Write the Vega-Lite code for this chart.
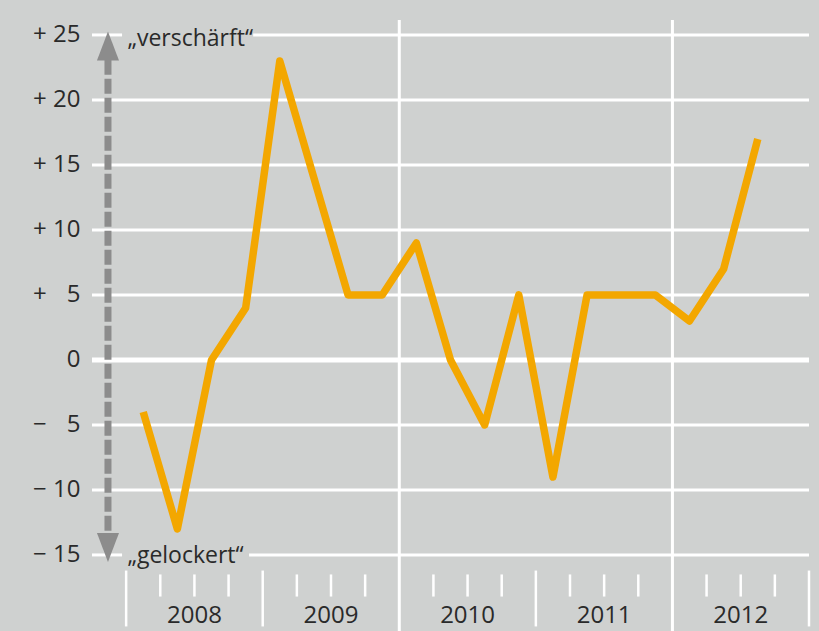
{
  "$schema": "https://vega.github.io/schema/vega-lite/v6.json",
  "width": 717,
  "height": 611,
  "autosize": {"type": "none"},
  "padding": {"left": 92, "top": 20, "right": 10, "bottom": 0},
  "background": "#cfd1d0",
  "config": {"view": {"stroke": null}, "font": "Open Sans"},
  "datasets": {
    "series": [
      {"t": 2008.125, "v": -4}, {"t": 2008.375, "v": -13}, {"t": 2008.625, "v": 0}, {"t": 2008.875, "v": 4},
      {"t": 2009.125, "v": 23}, {"t": 2009.375, "v": 14}, {"t": 2009.625, "v": 5}, {"t": 2009.875, "v": 5},
      {"t": 2010.125, "v": 9}, {"t": 2010.375, "v": 0}, {"t": 2010.625, "v": -5}, {"t": 2010.875, "v": 5},
      {"t": 2011.125, "v": -9}, {"t": 2011.375, "v": 5}, {"t": 2011.625, "v": 5}, {"t": 2011.875, "v": 5},
      {"t": 2012.125, "v": 3}, {"t": 2012.375, "v": 7}, {"t": 2012.625, "v": 17}
    ],
    "grid": [
      {"v": 25, "x1": 2007.75, "x2": 2007.97}, {"v": 25, "x1": 2008.93, "x2": 2013},
      {"v": 20, "x1": 2007.75, "x2": 2013}, {"v": 15, "x1": 2007.75, "x2": 2013},
      {"v": 10, "x1": 2007.75, "x2": 2013}, {"v": 5, "x1": 2007.75, "x2": 2013},
      {"v": 0, "x1": 2007.75, "x2": 2013}, {"v": -5, "x1": 2007.75, "x2": 2013},
      {"v": -10, "x1": 2007.75, "x2": 2013},
      {"v": -15, "x1": 2007.75, "x2": 2007.97}, {"v": -15, "x1": 2008.9, "x2": 2013}
    ],
    "yearLines": [{"t": 2010}, {"t": 2012}],
    "yearTicks": [{"t": 2008}, {"t": 2009}, {"t": 2011}, {"t": 2013}],
    "quarterTicks": [
      {"t": 2008.25}, {"t": 2008.5}, {"t": 2008.75},
      {"t": 2009.25}, {"t": 2009.5}, {"t": 2009.75},
      {"t": 2010.25}, {"t": 2010.5}, {"t": 2010.75},
      {"t": 2011.25}, {"t": 2011.5}, {"t": 2011.75},
      {"t": 2012.25}, {"t": 2012.5}, {"t": 2012.75}
    ],
    "years": [
      {"t": 2008.5, "label": "2008"}, {"t": 2009.5, "label": "2009"}, {"t": 2010.5, "label": "2010"},
      {"t": 2011.5, "label": "2011"}, {"t": 2012.5, "label": "2012"}
    ],
    "one": [{}]
  },
  "layer": [
    {
      "data": {"name": "grid"},
      "mark": {"type": "rule", "color": "#ffffff"},
      "encoding": {
        "x": {"field": "x1", "type": "quantitative", "scale": {"domain": [2007.75, 2013], "nice": false, "zero": false}, "axis": null},
        "x2": {"field": "x2"},
        "y": {
          "field": "v", "type": "quantitative",
          "scale": {"domain": [-20.85, 26.15], "nice": false, "zero": false},
          "axis": {
            "title": null, "domain": false, "ticks": false, "grid": false,
            "values": [-15, -10, -5, 0, 5, 10, 15, 20, 25],
            "labelFontSize": 24, "labelColor": "#2a2a2a", "labelPadding": 12, "labelFont": "Open Sans",
            "labelExpr": "datum.value > 0 ? (datum.value < 10 ? '+ \u2007' + datum.value : '+ ' + datum.value) : (datum.value == 0 ? '0' : (datum.value > -10 ? '\u2212 \u2007' + abs(datum.value) : '\u2212 ' + abs(datum.value)))"
          }
        },
        "strokeWidth": {"condition": {"test": "datum.v === 0", "value": 5}, "value": 3}
      }
    },
    {
      "data": {"name": "yearLines"},
      "mark": {"type": "rule", "color": "#ffffff", "strokeWidth": 3},
      "encoding": {"x": {"field": "t", "type": "quantitative"}}
    },
    {
      "data": {"name": "yearTicks"},
      "mark": {"type": "rule", "color": "#ffffff", "strokeWidth": 2.5},
      "encoding": {
        "x": {"field": "t", "type": "quantitative"},
        "y": {"datum": -16.2},
        "y2": {"datum": -20.5}
      }
    },
    {
      "data": {"name": "quarterTicks"},
      "mark": {"type": "rule", "color": "#ffffff", "strokeWidth": 2.5},
      "encoding": {
        "x": {"field": "t", "type": "quantitative"},
        "y": {"datum": -16.5},
        "y2": {"datum": -18.2}
      }
    },
    {
      "data": {"name": "years"},
      "mark": {"type": "text", "fontSize": 24, "color": "#2a2a2a", "align": "center", "baseline": "alphabetic", "font": "Open Sans"},
      "encoding": {
        "x": {"field": "t", "type": "quantitative"},
        "y": {"datum": -20.2},
        "text": {"field": "label"}
      }
    },
    {
      "data": {"name": "one"},
      "mark": {"type": "rule", "color": "#8c8c8c", "strokeWidth": 7, "strokeDash": [15, 4]},
      "encoding": {
        "x": {"datum": 2007.867},
        "y": {"datum": 23.1},
        "y2": {"datum": -13.25}
      }
    },
    {
      "data": {"name": "one"},
      "mark": {"type": "point", "shape": "M0,-1L0.76,1L-0.76,1Z", "size": 841, "filled": true, "color": "#8c8c8c", "opacity": 1},
      "encoding": {
        "x": {"datum": 2007.867},
        "y": {"datum": 24.15}
      }
    },
    {
      "data": {"name": "one"},
      "mark": {"type": "point", "shape": "M0,1L0.76,-1L-0.76,-1Z", "size": 841, "filled": true, "color": "#8c8c8c", "opacity": 1},
      "encoding": {
        "x": {"datum": 2007.867},
        "y": {"datum": -14.42}
      }
    },
    {
      "data": {"name": "one"},
      "mark": {"type": "text", "text": "\u201everschärft\u201c", "fontSize": 23, "color": "#2a2a2a", "align": "left", "baseline": "alphabetic", "font": "Open Sans"},
      "encoding": {
        "x": {"datum": 2008.01},
        "y": {"datum": 24.15}
      }
    },
    {
      "data": {"name": "one"},
      "mark": {"type": "text", "text": "\u201egelockert\u201c", "fontSize": 23, "color": "#2a2a2a", "align": "left", "baseline": "alphabetic", "font": "Open Sans"},
      "encoding": {
        "x": {"datum": 2008.01},
        "y": {"datum": -15.6}
      }
    },
    {
      "data": {"name": "series"},
      "mark": {"type": "line", "color": "#f3a700", "strokeWidth": 7.5, "strokeJoin": "round", "strokeCap": "butt"},
      "encoding": {
        "x": {"field": "t", "type": "quantitative"},
        "y": {"field": "v", "type": "quantitative"}
      }
    }
  ]
}
